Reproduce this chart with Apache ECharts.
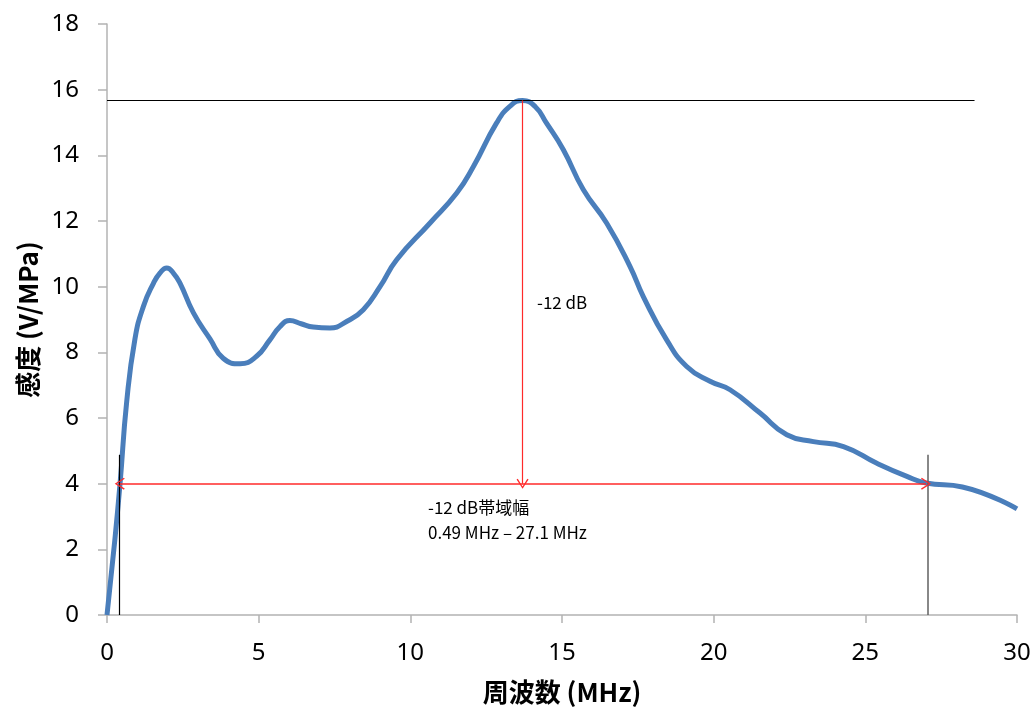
<!DOCTYPE html>
<html>
<head>
<meta charset="utf-8">
<script src="https://cdn.jsdelivr.net/npm/echarts@6/dist/echarts.min.js"></script>
<style>
html,body{margin:0;padding:0;background:#fff;}
#chart{width:1035px;height:711px;}
</style>
</head>
<body>
<div id="chart"></div>
<script>
// Frequency (MHz) and sensitivity (V/MPa)
var freq = [0, 0.26, 0.43, 0.65, 0.92, 1.2, 1.53, 1.75, 1.97, 2.2, 2.41, 2.85, 3.4, 3.83, 4.39, 4.93, 5.37, 5.7, 6.03, 6.4, 6.8, 7.35, 7.9, 8.45, 9.0, 9.55, 10.65, 11.53, 12.08, 12.84, 13.29, 13.7, 14.12, 14.49, 15.04, 15.7, 16.47, 17.24, 17.68, 18.45, 19.11, 19.88, 20.54, 21.53, 22.41, 23.29, 24.28, 25.38, 26.37, 27.0, 28.2, 30.0];
var sens = [0, 2.3, 4.0, 6.5, 8.4, 9.4, 10.1, 10.42, 10.57, 10.4, 10.1, 9.2, 8.4, 7.82, 7.65, 7.88, 8.38, 8.78, 8.97, 8.87, 8.77, 8.74, 8.94, 9.3, 10.0, 10.82, 11.94, 12.85, 13.66, 14.98, 15.5, 15.67, 15.48, 14.98, 14.18, 12.96, 11.94, 10.62, 9.7, 8.38, 7.57, 7.12, 6.86, 6.15, 5.49, 5.28, 5.13, 4.62, 4.22, 4.02, 3.9, 3.23];

// Annotation values
var peakFreq = 13.7;
var peakSens = 15.67;
var peakLineEnd = 28.6;
var bandLevel = 4.0;
var bandLow = 0.42;
var bandHigh = 27.0;
var markerTop = 4.88;
var markerHighX = 27.05;

var xTicks = [0, 5, 10, 15, 20, 25, 30];
var yTicks = [0, 2, 4, 6, 8, 10, 12, 14, 16, 18];

var curve = freq.map(function (f, i) { return [f, sens[i]]; });
var openArrow = 'path://M0,10 L5,0 L10,10 L9,10.9 L5,2.4 L1,10.9 Z';

var chart = echarts.init(document.getElementById('chart'));
var fontNum = '"Noto Sans", "Open Sans", sans-serif';
var fontCJK = '"Noto Sans CJK JP", "Noto Sans", sans-serif';

function markSeries(color, width, lines, z) {
  return {
    type: 'line', data: [], z: z,
    markLine: {
      silent: true, animation: false, symbol: 'none',
      label: { show: false },
      lineStyle: { color: color, width: width, type: 'solid', opacity: 1 },
      data: lines
    }
  };
}

chart.setOption({
  animation: false,
  backgroundColor: '#ffffff',
  grid: { left: 107, right: 18, top: 24, bottom: 96 },
  xAxis: {
    type: 'value',
    min: xTicks[0], max: xTicks[xTicks.length - 1], interval: 5,
    name: '周波数 (MHz)',
    nameLocation: 'middle', nameGap: 64,
    nameTextStyle: { fontFamily: fontCJK, fontSize: 26, fontWeight: 'bold', color: '#000' },
    axisLine: { show: true, lineStyle: { color: '#b3b3b3', width: 1.5 } },
    axisTick: { show: true, length: 8, lineStyle: { color: '#b3b3b3', width: 1.5 } },
    axisLabel: { margin: 26, fontFamily: fontNum, fontSize: 24, color: '#000' },
    splitLine: { show: false }
  },
  yAxis: {
    type: 'value',
    min: yTicks[0], max: yTicks[yTicks.length - 1], interval: 2,
    name: '感度 (V/MPa)',
    nameLocation: 'middle', nameGap: 66, nameRotate: 90,
    nameTextStyle: { fontFamily: fontCJK, fontSize: 26, fontWeight: 'bold', color: '#000' },
    axisLine: { show: true, lineStyle: { color: '#b3b3b3', width: 1.5 } },
    axisTick: { show: true, length: 9, lineStyle: { color: '#b3b3b3', width: 1.5 } },
    axisLabel: { margin: 28, fontFamily: fontNum, fontSize: 24, color: '#000' },
    splitLine: { show: false }
  },
  series: [
    {
      type: 'line',
      data: curve,
      smooth: 0.5,
      showSymbol: false,
      lineStyle: { width: 5, color: '#4a7ebb' },
      z: 2
    },
    markSeries('#000000', 1.2, [
      [{ coord: [0, peakSens] }, { coord: [peakLineEnd, peakSens] }],
      [{ coord: [bandLow, 0] }, { coord: [bandLow, markerTop] }]
    ], 5),
    markSeries('#606060', 1.5, [
      [{ coord: [markerHighX, 0] }, { coord: [markerHighX, markerTop] }]
    ], 5),
    markSeries('#ff2a2a', 1.2, [
      [{ coord: [peakFreq, peakSens], symbol: 'none' },
       { coord: [peakFreq, bandLevel], symbol: openArrow, symbolSize: [12, 10] }]
    ], 6),
    markSeries('#ff2a2a', 1.5, [
      [{ coord: [bandLow, bandLevel], symbol: openArrow, symbolSize: [12, 10] },
       { coord: [bandHigh, bandLevel], symbol: openArrow, symbolSize: [12, 10] }]
    ], 6)
  ],
  graphic: [
    { type: 'text', left: 537, top: 294, style: { text: '-12 dB', font: '17px ' + fontCJK, fill: '#000' } },
    { type: 'text', left: 428, top: 495, style: { text: '-12 dB帯域幅\n0.49 MHz – 27.1 MHz', font: '17px ' + fontCJK, fill: '#000', lineHeight: 25 } }
  ]
});
</script>
</body>
</html>
